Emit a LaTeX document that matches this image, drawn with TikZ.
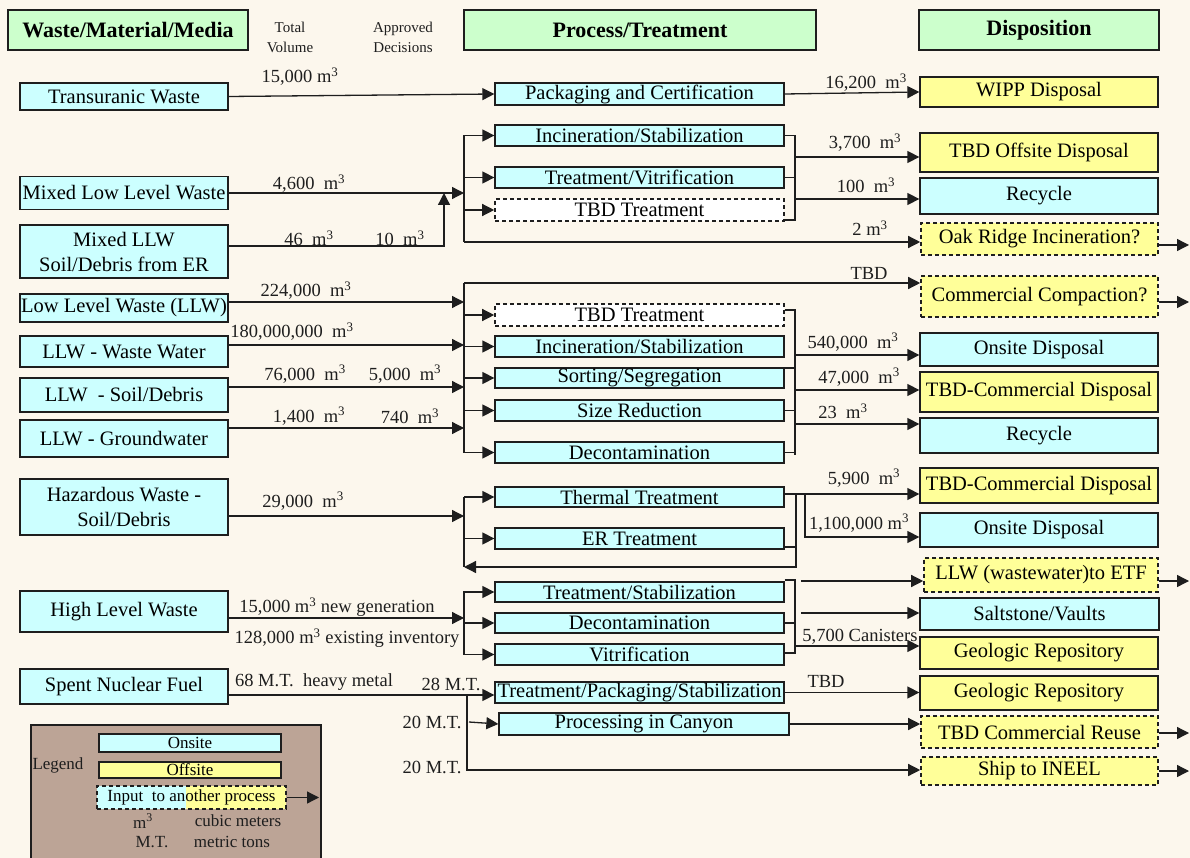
\documentclass[tikz,border=0pt]{standalone}
\usepackage{fontspec}
\setmainfont{Liberation Serif}
\usetikzlibrary{arrows.meta}

\definecolor{paper}{RGB}{252,247,237}
\definecolor{onsitefill}{RGB}{204,255,255}
\definecolor{offsitefill}{RGB}{255,255,153}
\definecolor{headfill}{RGB}{204,255,204}
\definecolor{legendfill}{RGB}{188,164,150}
\definecolor{ink}{RGB}{30,30,30}

\newcommand{\bxf}{\fontsize{20.5}{25}\selectfont}
\newcommand{\lbf}{\fontsize{18.5}{21}\selectfont}
\newcommand{\hdf}{\bfseries\fontsize{22}{24}\selectfont}
\newcommand{\smf}{\fontsize{15}{20}\selectfont}
\newcommand{\lgf}{\fontsize{17}{20}\selectfont}
\newcommand{\cum}{m\textsuperscript{3}}

\tikzset{
  box/.style={draw=ink, line width=1.3pt, inner sep=0pt, align=center, font=\bxf},
  onsite/.style={box, fill=onsitefill},
  offsite/.style={box, fill=offsitefill},
  onward/.style={box, fill=offsitefill, dash pattern=on 4pt off 3pt, line width=1.6pt},
  tbdbox/.style={box, fill=white, dash pattern=on 4pt off 3pt, line width=1.6pt},
  headbox/.style={box, fill=headfill, font=\hdf},
  sz/.style 2 args={minimum width=#1pt, minimum height=#2pt},
  qty/.style={inner sep=0pt, font=\lbf, text=ink},
  arr/.style={draw=ink, line width=1.3pt, -{Triangle[length=12pt,width=12pt]}},
  wire/.style={draw=ink, line width=1.3pt},
}

\begin{document}
\begin{tikzpicture}[x=1pt,y=-1pt]
\useasboundingbox (0,0) rectangle (1190,858);
\fill[paper] (0,0) rectangle (1190,858);

% ---------- column headings ----------
\node[headbox, sz={240}{40}] (hwaste) at (128,30) {Waste/Material/Media};
\node[headbox, sz={352}{40}] (hproc) at (640,30) {Process/Treatment};
\node[headbox, sz={240}{40}] (hdisp) at (1039,30) {Disposition};
\node[inner sep=0pt, font=\smf, align=center, text=ink] (hvol) at (290,37) {Total\\Volume};
\node[inner sep=0pt, font=\smf, align=center, text=ink] (hdec) at (403,37) {Approved\\Decisions};

% ---------- waste streams ----------
\node[onsite, sz={208}{27}] (tru)   at (124,96.5)  {Transuranic Waste};
\node[onsite, sz={208}{33}] (mllw)  at (124,193)   {Mixed Low Level Waste};
\node[onsite, sz={208}{53}] (mller) at (124,251.5) {Mixed LLW\\Soil/Debris from ER};
\node[onsite, sz={208}{28}] (llw)   at (124,308)   {Low Level Waste (LLW)};
\node[onsite, sz={208}{31}] (llwww) at (124,351.5) {LLW - Waste Water};
\node[onsite, sz={208}{34}] (llwsd) at (124,395)   {LLW\ \ - Soil/Debris};
\node[onsite, sz={208}{37}] (llwgw) at (124,438.5) {LLW - Groundwater};
\node[onsite, sz={208}{56}] (haz)   at (124,507)   {Hazardous Waste -\\Soil/Debris};
\node[onsite, sz={208}{41}] (hlw)   at (124,611.5) {High Level Waste};
\node[onsite, sz={208}{35}] (snf)   at (124,686.5) {Spent Nuclear Fuel};

% ---------- processes ----------
\node[onsite, sz={289}{22}] (pack)   at (639.5,94)    {Packaging and Certification};
\node[onsite, sz={289}{21}] (inc1)   at (639.5,135.5) {Incineration/Stabilization};
\node[onsite, sz={289}{21}] (vit1)   at (639.5,177.5) {Treatment/Vitrification};
\node[tbdbox, sz={289}{22}] (tbd1)   at (639.5,210)   {TBD Treatment};
\node[tbdbox, sz={289}{22}] (tbd2)   at (639.5,315)   {TBD Treatment};
\node[onsite, sz={289}{21}] (inc2)   at (639.5,346.5) {Incineration/Stabilization};
\node[onsite, sz={289}{20}] (sort)   at (639.5,378)   {Sorting/Segregation};
\node[onsite, sz={289}{21}] (size)   at (639.5,410.5) {Size Reduction};
\node[onsite, sz={289}{21}] (decon1) at (639.5,452.5) {Decontamination};
\node[onsite, sz={289}{20}] (therm)  at (639.5,497)   {Thermal Treatment};
\node[onsite, sz={289}{21}] (er)     at (639.5,538.5) {ER Treatment};
\node[onsite, sz={289}{20}] (tstab)  at (639.5,592)   {Treatment/Stabilization};
\node[onsite, sz={289}{20}] (decon2) at (639.5,623)   {Decontamination};
\node[onsite, sz={289}{21}] (vitr)   at (639.5,654.5) {Vitrification};
\node[onsite, sz={289}{21}] (tps)    at (639.5,692.5) {Treatment/Packaging/Stabilization};
\node[onsite, sz={290}{22}] (canyon) at (644,724)     {Processing in Canyon};

% ---------- dispositions ----------
\node[offsite, sz={238}{30}] (wipp)   at (1039,92)    {WIPP Disposal};
\node[offsite, sz={238}{39}] (tbdoff) at (1039,152.5) {TBD Offsite Disposal};
\node[onsite,  sz={238}{36}] (rec1)   at (1039,196)   {Recycle};
\node[onward,  sz={237}{32}] (oak)    at (1039.5,239) {Oak Ridge Incineration?};
\node[onward,  sz={237}{41}] (comp)   at (1039.5,296.5) {Commercial Compaction?};
\node[onsite,  sz={238}{33}] (ons1)   at (1039,349.5) {Onsite Disposal};
\node[offsite, sz={238}{40}] (tcd1)   at (1039,392)   {TBD-Commercial Disposal};
\node[onsite,  sz={238}{35}] (rec2)   at (1039,435.5) {Recycle};
\node[offsite, sz={238}{35}] (tcd2)   at (1039,485.5) {TBD-Commercial Disposal};
\node[onsite,  sz={238}{34}] (ons2)   at (1039,530)   {Onsite Disposal};
\node[onward,  sz={234}{34}] (etf)    at (1041,575)   {LLW (wastewater)to ETF};
\node[onsite,  sz={239}{32}] (salt)   at (1039.5,614) {Saltstone/Vaults};
\node[offsite, sz={238}{32}] (geo1)   at (1039,653)   {Geologic Repository};
\node[offsite, sz={238}{34}] (geo2)   at (1039,693)   {Geologic Repository};
\node[onward,  sz={237}{32}] (reuse)  at (1039.5,732) {TBD Commercial Reuse};
\node[onward,  sz={237}{28}] (ineel)  at (1039.5,771) {Ship to INEEL};

% ---------- transuranic ----------
\draw[arr] (tru.east) -- (pack.west);
\draw[arr] (pack.east) -- (wipp.west);
\node[qty] (q1) at (300,77) {15,000 \cum};
\node[qty] (q2) at (866,83) {16,200~~\cum};

% ---------- mixed low level waste ----------
\coordinate (mjoin) at (464,193);
\coordinate (mtop) at (464,135.5);
\coordinate (mbot) at (464,242);
\coordinate (mbend) at (444,246);
\coordinate (mup) at (444,193);
\coordinate (mrtop) at (795,135.5);
\coordinate (mrbot) at (795,220);
\coordinate (mo1) at (795,157);
\coordinate (mo2) at (795,199);
\coordinate (oakout) at (1189,245);
\draw[arr] (mllw.east) -- (mjoin);
\draw[arr] (mller.east |- mbend) -- (mbend) -- (mup);
\draw[wire] (mtop) -- (mbot);
\draw[arr] (mtop) -- (inc1.west);
\draw[arr] (mtop |- vit1.west) -- (vit1.west);
\draw[arr] (mtop |- tbd1.west) -- (tbd1.west);
\draw[arr] (mbot) -- (oak.west |- mbot);
\draw[wire] (inc1.east) -- (mrtop) -- (mrbot) -- (tbd1.east |- mrbot);
\draw[wire] (vit1.east) -- (vit1.east -| mrtop);
\draw[arr] (mo1) -- (tbdoff.west |- mo1);
\draw[arr] (mo2) -- (rec1.west |- mo2);
\draw[arr] (oak.east |- oakout) -- (oakout);
\node[qty] (q3) at (309,184) {4,600~~\cum};
\node[qty] (q4) at (309,238) {46~~\cum};
\node[qty] (q5) at (400,238) {10~~\cum};
\node[qty] (q6) at (865,143) {3,700~~\cum};
\node[qty] (q7) at (866,185) {100~~\cum};
\node[qty] (q8) at (870,228) {2 \cum};

% ---------- low level waste ----------
\coordinate (ltop) at (464,283);
\coordinate (lbot) at (464,452.5);
\coordinate (l1) at (464,302);
\coordinate (l2) at (464,345);
\coordinate (l3) at (464,387);
\coordinate (l4) at (464,428);
\coordinate (lrtop) at (795,310);
\coordinate (lrbot) at (795,455);
\coordinate (lmid) at (795,368);
\coordinate (lo1) at (795,355);
\coordinate (lo2) at (795,390);
\coordinate (lo3) at (795,424);
\coordinate (compout) at (1189,302);
\draw[arr] (llw.east |- l1) -- (l1);
\draw[arr] (llwww.east |- l2) -- (l2);
\draw[arr] (llwsd.east |- l3) -- (l3);
\draw[arr] (llwgw.east |- l4) -- (l4);
\draw[wire] (ltop) -- (lbot);
\draw[arr] (ltop) -- (comp.west |- ltop);
\draw[arr] (ltop |- tbd2.west) -- (tbd2.west);
\draw[arr] (ltop |- inc2.west) -- (inc2.west);
\draw[arr] (ltop |- sort.west) -- (sort.west);
\draw[arr] (ltop |- size.west) -- (size.west);
\draw[arr] (lbot) -- (decon1.west);
\draw[wire] (tbd2.east |- lrtop) -- (lrtop) -- (lrbot);
\draw[wire] (sort.east |- lmid) -- (lmid);
\draw[wire] (size.east) -- (size.east -| lrtop);
\draw[wire] (decon1.east) -- (decon1.east -| lrtop);
\draw[arr] (lo1) -- (ons1.west |- lo1);
\draw[arr] (lo2) -- (tcd1.west |- lo2);
\draw[arr] (lo3) -- (rec2.west |- lo3);
\draw[arr] (comp.east |- compout) -- (compout);
\node[qty] (q9)  at (306,291) {224,000~~\cum};
\node[qty] (q10) at (292,332) {180,000,000~~\cum};
\node[qty] (q11) at (305,374) {76,000~~\cum};
\node[qty] (q12) at (405,374) {5,000~~\cum};
\node[qty] (q13) at (309,416) {1,400~~\cum};
\node[qty] (q14) at (410,416) {740~~\cum};
\node[qty] (q15) at (869,273) {TBD};
\node[qty] (q16) at (853,342) {540,000~~\cum};
\node[qty] (q17) at (859,377) {47,000~~\cum};
\node[qty] (q18) at (843,411) {23~~\cum};

% ---------- hazardous waste ----------
\coordinate (hz) at (464,516);
\coordinate (hztop) at (464,497);
\coordinate (hzbot) at (464,567);
\coordinate (hr1) at (796,494);
\coordinate (hr2) at (805,494);
\coordinate (hrbot) at (796,567);
\coordinate (hron) at (805,537);
\coordinate (hrer) at (796,547);
\draw[arr] (haz.east |- hz) -- (hz);
\draw[wire] (hztop) -- (hzbot);
\draw[arr] (hztop) -- (therm.west);
\draw[arr] (hztop |- er.west) -- (er.west);
\draw[arr] (therm.east |- hr1) -- (tcd2.west |- hr1);
\draw[arr] (hr1) -- (hrbot) -- (hzbot);
\draw[arr] (hr2) -- (hron) -- (ons2.west |- hron);
\draw[wire] (er.east |- hrer) -- (hrer);
\node[qty] (q19) at (303,501) {29,000~~\cum};
\node[qty] (q20) at (864,478) {5,900~~\cum};
\node[qty] (q21) at (859,523) {1,100,000~\cum};

% ---------- high level waste ----------
\coordinate (hw) at (464,618);
\coordinate (hwtop) at (464,591);
\coordinate (hwbot) at (464,655);
\coordinate (hwr1) at (795,580);
\coordinate (hwr2) at (795,653);
\coordinate (ho1) at (801,581);
\coordinate (ho2) at (801,613);
\coordinate (ho3) at (795,646);
\coordinate (etfout) at (1189,581);
\draw[arr] (hlw.east |- hw) -- (hw);
\draw[wire] (hwtop) -- (hwbot);
\draw[arr] (hwtop |- tstab.west) -- (tstab.west);
\draw[arr] (hwtop |- decon2.west) -- (decon2.west);
\draw[arr] (hwtop |- vitr.west) -- (vitr.west);
\draw[wire] (tstab.east |- hwr1) -- (hwr1) -- (hwr2) -- (vitr.east |- hwr2);
\draw[wire] (decon2.east) -- (decon2.east -| hwr1);
\draw[arr] (ho1) -- (etf.west |- ho1);
\draw[arr] (ho2) -- (salt.west |- ho2);
\draw[arr] (ho3) -- (geo1.west |- ho3);
\draw[arr] (etf.east |- etfout) -- (etfout);
\node[qty] (q22) at (337,607) {15,000 \cum{} new generation};
\node[qty] (q23) at (347,638) {128,000 \cum{} existing inventory};
\node[qty] (q24) at (860,637) {5,700 Canisters};

% ---------- spent nuclear fuel ----------
\coordinate (sn) at (467,695);
\coordinate (snb) at (467,770);
\coordinate (snc) at (469,722);
\coordinate (reuseout) at (1189,733);
\coordinate (ineelout) at (1189,771);
\draw[arr] (snf.east |- sn) -- (tps.west |- sn);
\draw[arr] (sn) -- (snb) -- (ineel.west |- snb);
\draw[arr] (snc) -- (canyon.west);
\draw[arr] (tps.east) -- (geo2.west |- tps.east);
\draw[arr] (canyon.east) -- (reuse.west |- canyon.east);
\draw[arr] (reuse.east |- reuseout) -- (reuseout);
\draw[arr] (ineel.east |- ineelout) -- (ineelout);
\node[qty] (q25) at (314,682) {68 M.T.~~heavy metal};
\node[qty] (q26) at (451,684) {28 M.T.};
\node[qty] (q27) at (432,722) {20 M.T.};
\node[qty] (q28) at (432,767) {20 M.T.};
\node[qty] (q29) at (826,681) {TBD};

% ---------- legend ----------
\fill[legendfill] (31,725) rectangle (321,858);
\draw[ink, line width=1.3pt] (31,858) -- (31,725) -- (321,725) -- (321,858);
\node[onsite, sz={182}{18}, font=\lgf] (lgon) at (190,743) {Onsite};
\node[offsite, sz={182}{16}, font=\lgf] (lgoff) at (190,770) {Offsite};
\fill[onsitefill] (97,786) rectangle (186,809);
\fill[offsitefill] (186,786) rectangle (286,809);
\node[draw=ink, dash pattern=on 4pt off 3pt, line width=1.6pt, inner sep=0pt,
      sz={189}{23}, font=\lgf] (lgin) at (191.5,797.5) {Input~~to another process};
\coordinate (lgout) at (319,797.5);
\draw[arr] (lgin.east) -- (lgout);
\node[inner sep=0pt, font=\lgf, text=ink] (lgt) at (58,765) {Legend};
\node[inner sep=0pt, font=\lgf, text=ink] (lgm) at (143,821) {\cum};
\node[inner sep=0pt, font=\lgf, text=ink] (lgmt) at (238,821) {cubic meters};
\node[inner sep=0pt, font=\lgf, text=ink] (lgt1) at (152,842) {M.T.};
\node[inner sep=0pt, font=\lgf, text=ink] (lgt2) at (232,842) {metric tons};
\end{tikzpicture}
\end{document}
